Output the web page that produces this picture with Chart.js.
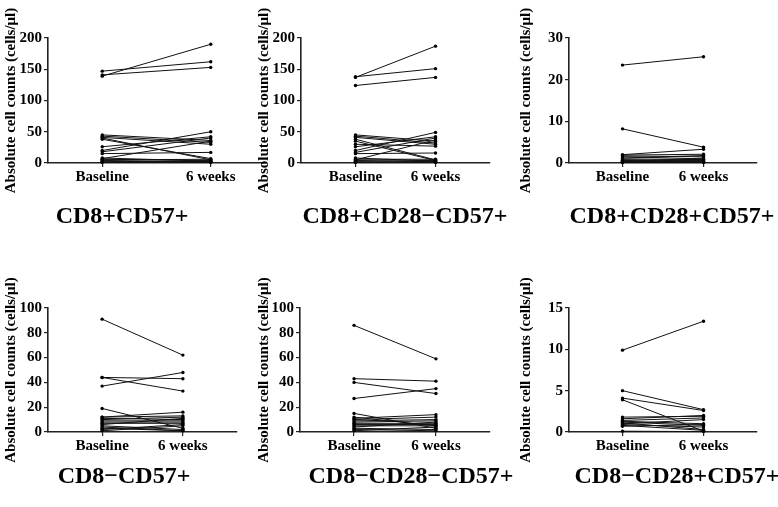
<!DOCTYPE html>
<html>
<head>
<meta charset="utf-8">
<script src="https://cdn.jsdelivr.net/npm/chart.js@4.4.1/dist/chart.umd.min.js"></script>
<style>
  body { margin: 0; background: #fff; }
  #wrap { position: relative; width: 778px; height: 507px; overflow: hidden; }
  canvas { position: absolute; }
  .ttl {
    position: absolute;
    font: bold 24px "Liberation Serif", "Times New Roman", serif;
    color: #000;
    white-space: nowrap;
    transform: translate(-50%, -50%);
  }
</style>
</head>
<body>
<div id="wrap"></div>
<script>
const categories = ['Baseline', '6 weeks'];
const panelTitles = [
  'CD8+CD57+', 'CD8+CD28\u2212CD57+', 'CD8+CD28+CD57+',
  'CD8\u2212CD57+', 'CD8\u2212CD28\u2212CD57+', 'CD8\u2212CD28+CD57+'
];
const yMax = [200, 200, 30, 100, 100, 15];
const yStep = [50, 50, 10, 20, 20, 5];

// one entry per subject, baseline vs 6 weeks
const cd8Cd57Base = [139, 147, 141, 45, 43, 41, 40, 38, 20, 26, 18, 15, 8, 6, 5, 4, 3, 2, 1, 7];
const cd8Cd57Wk6  = [190, 162, 153, 36, 33, 30, 5, 7, 50, 42, 40, 17, 3, 4, 6, 2, 1, 3, 2, 35];

const cd8Cd28nBase = [137, 138, 124, 45, 43, 41, 38, 35, 20, 26, 17, 15, 30, 8, 6, 4, 2, 5, 1, 3];
const cd8Cd28nWk6  = [187, 151, 137, 35, 32, 30, 5, 4, 49, 42, 40, 16, 27, 3, 6, 2, 1, 37, 2, 4];

const cd8Cd28pBase = [23.5, 8.2, 2.0, 1.9, 1.7, 1.5, 1.0, 0.6, 0.4, 0.3, 0.2, 0.5, 0.1, 1.2, 0.8, 0.3];
const cd8Cd28pWk6  = [25.5, 3.8, 3.3, 2.1, 1.5, 1.0, 0.8, 0.5, 0.4, 0.2, 0.9, 0.3, 0.1, 1.8, 0.6, 1.2];

const cd8nCd57Base = [91, 44, 44, 37, 19, 12, 12, 11, 10, 9, 8, 7, 6, 5, 4, 3, 2, 1];
const cd8nCd57Wk6  = [62, 33, 43, 48, 3, 16, 13, 10, 12, 9, 8, 7, 11, 2, 1, 1, 6, 5];

const cd8nCd28nBase = [86, 43, 40, 27, 15, 11, 10, 9, 8, 7, 6, 5, 4, 3, 2, 1, 12];
const cd8nCd28nWk6  = [59, 41, 31, 35, 3, 14, 12, 10, 9, 7, 6, 5, 8, 2, 1, 4, 5];

const cd8nCd28pBase = [9.9, 5.0, 4.1, 3.9, 1.8, 1.6, 1.4, 1.3, 1.2, 1.1, 1.0, 0.9, 0.8, 0.7, 0.1];
const cd8nCd28pWk6  = [13.4, 2.7, 2.6, 0.1, 1.9, 2.0, 1.7, 1.0, 0.8, 0.3, 1.5, 0.6, 0.2, 0.9, 0.05];

const baseSets = [cd8Cd57Base, cd8Cd28nBase, cd8Cd28pBase, cd8nCd57Base, cd8nCd28nBase, cd8nCd28pBase];
const wk6Sets  = [cd8Cd57Wk6, cd8Cd28nWk6, cd8Cd28pWk6, cd8nCd57Wk6, cd8nCd28nWk6, cd8nCd28pWk6];

// canvas box, wanted plot area, x range and title spot per panel (page pixels)
const boxes = [
  { left: 2,   top: 0,   w: 270, h: 250, x0: 48,  x1: 265, y0: 38,  y1: 163, xr: 0.5,  tx: 122, ty: 215 },
  { left: 255, top: 0,   w: 243, h: 250, x0: 301, x1: 490, y0: 38,  y1: 163, xr: 0.68, tx: 405, ty: 215 },
  { left: 517, top: 0,   w: 261, h: 250, x0: 569, x1: 757, y0: 38,  y1: 163, xr: 0.66, tx: 672, ty: 215 },
  { left: 2,   top: 255, w: 248, h: 252, x0: 48,  x1: 237, y0: 308, y1: 432, xr: 0.67, tx: 124, ty: 475 },
  { left: 255, top: 255, w: 243, h: 252, x0: 300, x1: 490, y0: 308, y1: 432, xr: 0.66, tx: 411, ty: 475 },
  { left: 517, top: 255, w: 261, h: 252, x0: 569, x1: 757, y0: 308, y1: 432, xr: 0.66, tx: 677, ty: 475 }
];

const serif = '"Liberation Serif", "Times New Roman", serif';
const axisColor = '#222';
const xAxisH = 28;
const wrap = document.getElementById('wrap');

boxes.forEach((b, p) => {
  const cv = document.createElement('canvas');
  cv.width = b.w;
  cv.height = b.h;
  cv.style.left = b.left + 'px';
  cv.style.top = b.top + 'px';
  wrap.appendChild(cv);

  const t = document.createElement('div');
  t.className = 'ttl';
  t.textContent = panelTitles[p];
  t.style.left = b.tx + 'px';
  t.style.top = b.ty + 'px';
  wrap.appendChild(t);

  const base = baseSets[p];
  const wk6 = wk6Sets[p];

  new Chart(cv, {
    type: 'line',
    data: {
      datasets: base.map((v, i) => ({
        data: [{ x: 0, y: v }, { x: 1, y: wk6[i] }],
        borderColor: '#111',
        borderWidth: 1,
        pointRadius: 1.7,
        pointBackgroundColor: '#000',
        pointBorderWidth: 0,
        clip: false
      }))
    },
    options: {
      responsive: false,
      animation: false,
      layout: {
        padding: {
          top: b.y0 - b.top,
          right: b.left + b.w - b.x1,
          bottom: b.top + b.h - b.y1 - xAxisH,
          left: 0
        }
      },
      plugins: {
        legend: { display: false },
        tooltip: { enabled: false }
      },
      scales: {
        x: {
          type: 'linear',
          min: -b.xr,
          max: 1 + b.xr,
          afterBuildTicks(s) { s.ticks = [{ value: 0 }, { value: 1 }]; },
          grid: {
            drawOnChartArea: false,
            tickLength: 4,
            color: axisColor,
            lineWidth: 1.2
          },
          border: { color: axisColor, width: 1.6 },
          ticks: {
            color: '#000',
            maxRotation: 0,
            padding: 1,
            callback: (v) => categories[v],
            font: { family: serif, weight: 'bold', size: 15 }
          },
          afterFit(s) { s.height = xAxisH; }
        },
        y: {
          min: 0,
          max: yMax[p],
          grid: {
            drawOnChartArea: false,
            tickLength: 4,
            color: axisColor,
            lineWidth: 1.2
          },
          border: { color: axisColor, width: 1.6 },
          ticks: {
            stepSize: yStep[p],
            color: '#000',
            padding: 2,
            font: { family: serif, weight: 'bold', size: 15 }
          },
          title: {
            display: true,
            text: 'Absolute cell counts (cells/\u03bcl)',
            color: '#000',
            font: { family: serif, weight: 'bold', size: 15 },
            padding: { top: 0, bottom: 0 }
          },
          afterFit(s) { s.width = b.x0 - b.left; }
        }
      }
    }
  });
});
</script>
</body>
</html>
